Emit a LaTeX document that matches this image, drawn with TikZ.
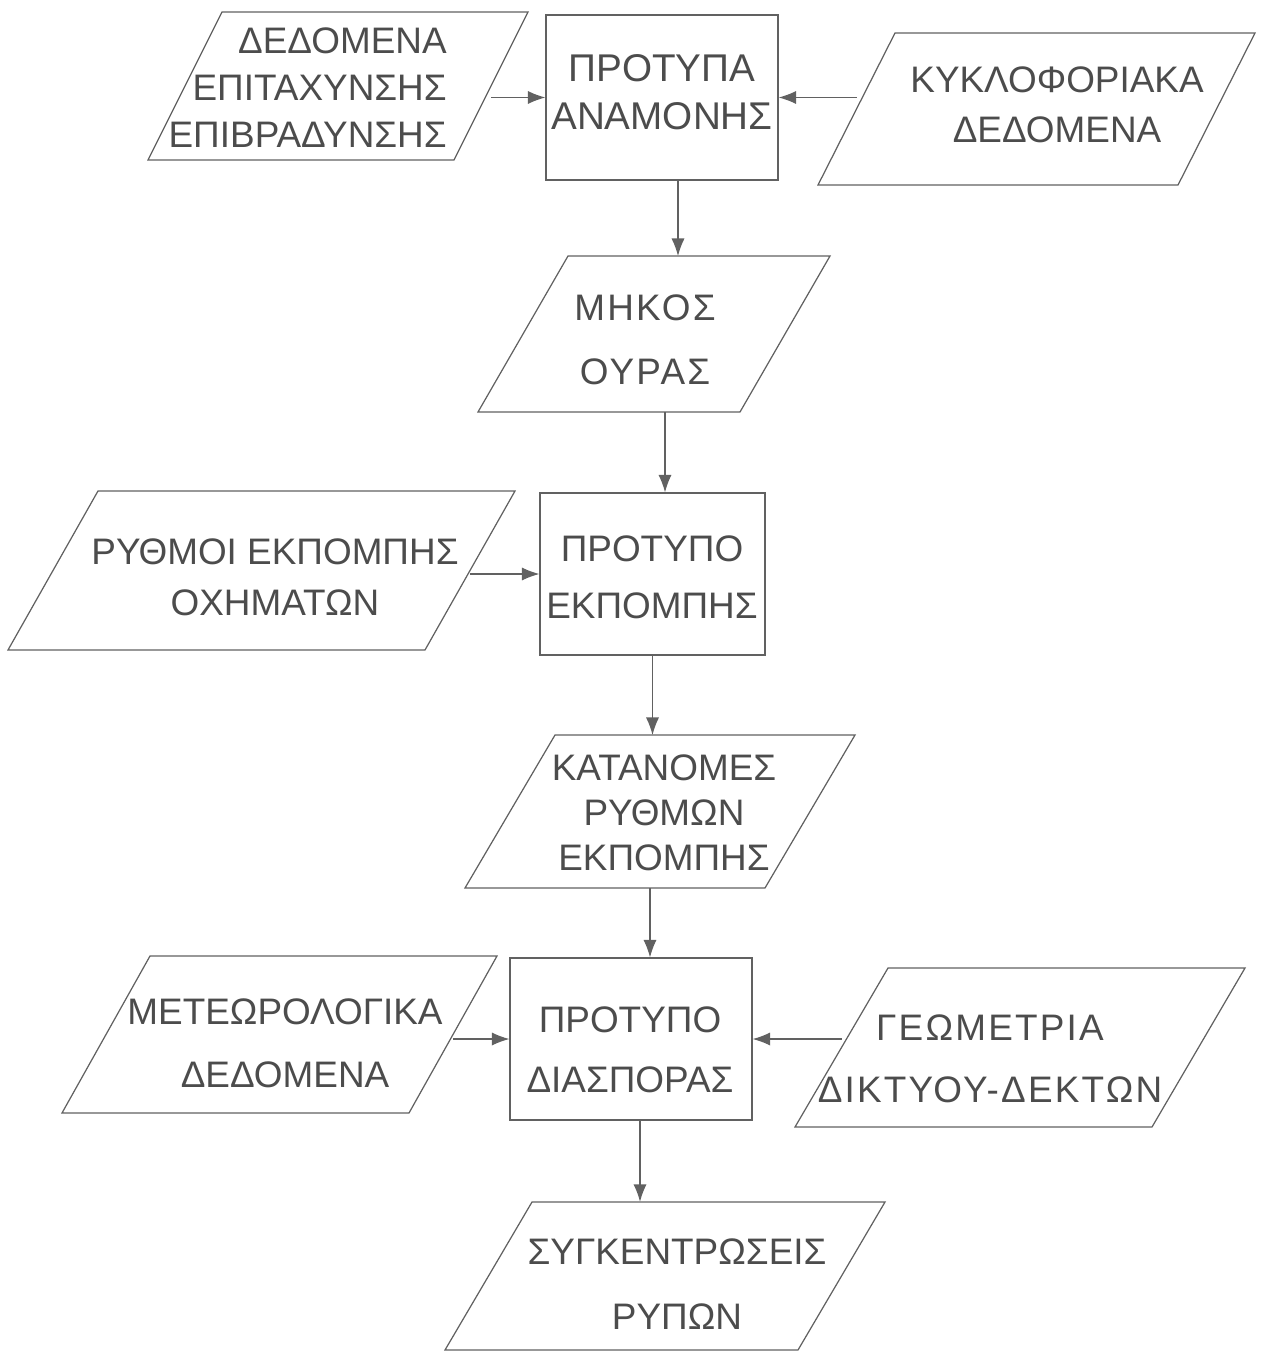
\documentclass[tikz,border=0pt]{standalone}
\usepackage{fontspec}
\setmainfont{Liberation Sans}
\usetikzlibrary{arrows.meta}
\definecolor{ink}{gray}{0.3}
\definecolor{pen}{gray}{0.38}

% parallelogram: name, top y, bottom y, top-left x, top-right x, bottom-left x
\newcommand{\flowpara}[6]{%
  \draw[shp] (#6,#3) -- (#4,#2) -- (#5,#2) -- (#5+#6-#4,#3) -- cycle;
  \coordinate (#1-n) at ({(#4+#5)/2},#2);
  \coordinate (#1-s) at ({#6+(#5-#4)/2},#3);
  \coordinate (#1-w) at ({(#4+#6)/2},{(#2+#3)/2});
  \coordinate (#1-e) at ({#5+(#6-#4)/2},{(#2+#3)/2});
}

\begin{document}
\begin{tikzpicture}[x=0.02cm,y=-0.02cm,
  shp/.style={draw=pen,line width=0.7pt},
  box/.style 2 args={draw=pen,line width=0.7pt,inner sep=0pt,minimum width=#1,minimum height=#2},
  txt/.style={inner sep=0pt,text=ink,align=center,font=\fontsize{21}{#1}\selectfont},
  wide/.style={font=\fontsize{21}{#1}\selectfont\addfontfeature{LetterSpace=6}},
  flow/.style={draw=pen,line width=0.7pt,-{Latex[length=10pt,width=7.5pt]}}]
\useasboundingbox (0,0) rectangle (1265,1358);

% shapes
\flowpara{acc}{12}{160}{222}{528}{148}
\node[box={4.64cm}{3.3cm}] (wait) at (662,97.5) {};
\flowpara{traf}{33}{185}{895}{1255}{818}
\flowpara{queue}{256}{412}{568}{830}{478}
\node[box={4.5cm}{3.24cm}] (emis) at (652.5,574) {};
\flowpara{rates}{491}{650}{98}{515}{8}
\flowpara{distr}{735}{888}{555}{855}{465}
\node[box={4.84cm}{3.24cm}] (disp) at (631,1039) {};
\flowpara{meteo}{956}{1113}{150}{497}{62}
\flowpara{geom}{968}{1127}{888}{1245}{795}
\flowpara{conc}{1202}{1350}{532}{885}{445}

% texts
\node[txt=26.7pt,anchor=east,align=right] (acc-t) at (447,88) {ΔΕΔΟΜΕΝΑ\\ΕΠΙΤΑΧΥΝΣΗΣ\\ΕΠΙΒΡΑΔΥΝΣΗΣ};
\node[txt=27pt,font=\fontsize{22}{27}\selectfont] (wait-t) at (662,92) {ΠΡΟΤΥΠΑ\\ΑΝΑΜΟΝΗΣ};
\node[txt=28.4pt] (traf-t) at (1057,105) {ΚΥΚΛΟΦΟΡΙΑΚΑ\\ΔΕΔΟΜΕΝΑ};
\node[txt,wide=36.4pt] (queue-t) at (645,340) {ΜΗΚΟΣ\\ΟΥΡΑΣ};
\node[txt=32.4pt] (emis-t) at (652,577) {ΠΡΟΤΥΠΟ\\ΕΚΠΟΜΠΗΣ};
\node[txt=29pt] (rates-t) at (275,577) {ΡΥΘΜΟΙ ΕΚΠΟΜΠΗΣ\\ΟΧΗΜΑΤΩΝ};
\node[txt=25.6pt] (distr-t) at (664,813) {ΚΑΤΑΝΟΜΕΣ\\ΡΥΘΜΩΝ\\ΕΚΠΟΜΠΗΣ};
\node[txt=34pt] (disp-t) at (630,1050) {ΠΡΟΤΥΠΟ\\ΔΙΑΣΠΟΡΑΣ};
\node[txt=36pt] (meteo-t) at (285,1043) {ΜΕΤΕΩΡΟΛΟΓΙΚΑ\\ΔΕΔΟΜΕΝΑ};
\node[txt,wide=35pt] (geom-t) at (990,1059) {ΓΕΩΜΕΤΡΙΑ\\ΔΙΚΤΥΟΥ-ΔΕΚΤΩΝ};
\node[txt=37pt] (conc-t) at (677,1284) {ΣΥΓΚΕΝΤΡΩΣΕΙΣ\\ΡΥΠΩΝ};

% connectors
\draw[flow] (wait.west -| acc-e) -- (wait.west);
\draw[flow] (wait.east -| traf-w) -- (wait.east);
\draw[flow] ([xshift=0.32cm]wait.south) -- ([xshift=0.32cm]wait.south |- queue-n);
\draw[flow] ([xshift=0.25cm]emis.north |- queue-s) -- ([xshift=0.25cm]emis.north);
\draw[flow] (emis.west -| rates-e) -- (emis.west);
\draw[flow] (emis.south) -- (emis.south |- distr-n);
\draw[flow] ([xshift=0.38cm]disp.north |- distr-s) -- ([xshift=0.38cm]disp.north);
\draw[flow] (disp.west -| meteo-e) -- (disp.west);
\draw[flow] (disp.east -| geom-w) -- (disp.east);
\draw[flow,line width=1pt] ([xshift=0.18cm]disp.south) -- ([xshift=0.18cm]disp.south |- conc-n);
\end{tikzpicture}
\end{document}
